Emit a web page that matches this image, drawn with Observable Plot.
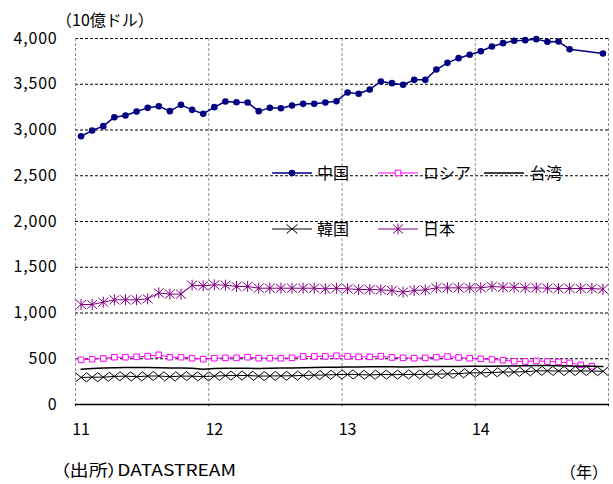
<!DOCTYPE html>
<html>
<head>
<meta charset="utf-8">
<script src="https://cdn.jsdelivr.net/npm/d3@7"></script>
<script src="https://cdn.jsdelivr.net/npm/@observablehq/plot@0.6"></script>
<style>
  html, body { margin: 0; padding: 0; background: #fff; }
  svg text { font-family: "Noto Sans CJK JP", "Noto Sans", sans-serif; }
  .ytick text { letter-spacing: 0.8px; }
</style>
</head>
<body>
<div id="chart"></div>
<script>
// Foreign exchange reserves, monthly, Jan 2011 – Dec 2014 (billion USD)
const yearLabels = ["11", "12", "13", "14"];
const yTicks = [0, 500, 1000, 1500, 2000, 2500, 3000, 3500, 4000];
const seriesNames = ["中国", "ロシア", "台湾", "韓国", "日本"];

const china = [2932, 2994, 3042, 3140, 3158, 3202, 3242, 3260, 3206, 3275, 3220, 3177,
               3250, 3311, 3304, 3300, 3206, 3242, 3238, 3268, 3286, 3286, 3300, 3315,
               3410, 3396, 3443, 3530, 3512, 3494, 3548, 3548, 3661, 3734, 3785, 3822,
               3861, 3913, 3949, 3975, 3982, 3993, 3964, 3967, 3883, null, null, 3836];
const russia = [488, 495, 503, 517, 517, 521, 528, 543, 517, 517, 506, 495,
                506, 510, 510, 517, 506, 506, 506, 510, 525, 525, 525, 532,
                525, 521, 521, 528, 514, 510, 506, 510, 517, 524, 514, 506,
                499, 492, 484, 473, 470, 477, 470, 465, 455, 434, 418, null];
const taiwan = [385, 393, 398, 401, 404, 405, 405, 402, 400, 398, 395, 386,
                393, 397, 397, 395, 394, 397, 398, 400, 402, 405, 407, 408,
                410, 410, 412, 413, 412, 410, 412, 414, 414, 415, 416, 417,
                418, 418, 420, 422, 424, 425, 425, 423, 420, 418, 418, 415];
const korea = [296, 298, 299, 307, 310, 304, 311, 312, 303, 311, 309, 306,
               310, 316, 316, 317, 310, 312, 313, 314, 317, 320, 323, 327,
               329, 327, 323, 328, 326, 327, 329, 330, 331, 335, 337, 346,
               346, 350, 354, 355, 359, 367, 368, 366, 366, 367, 366, 363];
const japan = [1093, 1093, 1118, 1144, 1144, 1144, 1155, 1220, 1206, 1206, 1304, 1297,
               1308, 1304, 1290, 1290, 1271, 1271, 1271, 1271, 1271, 1271, 1264, 1271,
               1264, 1257, 1257, 1253, 1246, 1228, 1246, 1253, 1275, 1275, 1275, 1275,
               1275, 1290, 1282, 1282, 1275, 1275, 1271, 1268, 1268, 1268, 1268, 1260];

// one record per month; x is the month's centre on a 0–48 month axis
const toRows = (values) => values
  .map((v, i) => ({x: i + 0.5, y: v}))
  .filter((d) => d.y != null);

const yearBounds = [0, 12, 24, 36, 48];
const yearCentres = yearLabels.map((_, i) => i * 12 + 0.5);

// marker shapes
const timesSym = {draw(c) { c.moveTo(-5.5, -4.5); c.lineTo(5.5, 4.5); c.moveTo(-5.5, 4.5); c.lineTo(5.5, -4.5); }};
const starSym = {draw(c) { c.moveTo(-5, -4.5); c.lineTo(5, 4.5); c.moveTo(-5, 4.5); c.lineTo(5, -4.5); c.moveTo(0, -5.5); c.lineTo(0, 5.5); }};
const squareSym = {draw(c) { c.rect(-2.8, -2.8, 5.6, 5.6); }};
const circleSym = {draw(c) { c.moveTo(3.3, 0); c.arc(0, 0, 3.3, 0, 2 * Math.PI); }};

const series = [
  {name: seriesNames[0], rows: toRows(china), color: "#000080", width: 1.5, sym: circleSym, fill: "#000080", stroke: "none"},
  {name: seriesNames[1], rows: toRows(russia), color: "#ff00ff", width: 1, sym: squareSym, fill: "white", stroke: "#ff00ff"},
  {name: seriesNames[2], rows: toRows(taiwan), color: "#000000", width: 1.5, sym: null},
  {name: seriesNames[3], rows: toRows(korea), color: "#000000", width: 1, sym: timesSym, fill: "none", stroke: "#000000"},
  {name: seriesNames[4], rows: toRows(japan), color: "#800080", width: 1, sym: starSym, fill: "none", stroke: "#800080"}
];

const marks = [
  Plot.ruleY(yTicks.filter((d) => d > 0), {stroke: "#000", strokeWidth: 1, strokeDasharray: "3,2"}),
  Plot.ruleX(yearBounds, {stroke: "#8c8c8c", strokeWidth: 1, strokeDasharray: "3,2"}),
  Plot.ruleY([0], {stroke: "#000", strokeWidth: 1.5}),
  Plot.axisY({ticks: yTicks, tickFormat: d3.format(","), tickSize: 0, tickPadding: 18, fontSize: 16, label: null, className: "ytick"}),
  Plot.axisX({ticks: yearBounds, tickSize: 2, tickFormat: () => "", label: null}),
  Plot.axisX({ticks: yearCentres, tickSize: 0, tickPadding: 19, fontSize: 16, label: null,
              tickFormat: (d) => yearLabels[Math.round((d - 0.5) / 12)]})
];
for (const s of series) {
  marks.push(Plot.line(s.rows, {x: "x", y: "y", stroke: s.color, strokeWidth: s.width}));
  if (s.sym) marks.push(Plot.dot(s.rows, {x: "x", y: "y", symbol: s.sym, r: 4, fill: s.fill, stroke: s.stroke, strokeWidth: 1}));
}

const svg = Plot.plot({
  width: 613,
  height: 484,
  marginLeft: 75,
  marginRight: 5,
  marginTop: 38,
  marginBottom: 80,
  style: {fontFamily: '"Noto Sans CJK JP", "Noto Sans", sans-serif', fontSize: "16px", color: "#000", background: "#fff"},
  x: {domain: [0, 48]},
  y: {domain: [0, 4000]},
  marks
});
document.getElementById("chart").append(svg);

// annotations and legend
const root = d3.select(svg);
const font = '"Noto Sans CJK JP", "Noto Sans", sans-serif';
const addText = (x, y, str, anchor = "start") =>
  root.append("text").attr("x", x).attr("y", y).attr("dy", "0.35em")
    .attr("text-anchor", anchor).attr("font-family", font).attr("font-size", 16)
    .attr("fill", "#000").text(str);

addText(56, 20, "（10億ドル）");
addText(60, 470, "（出所）DATASTREAM")
  .style("font-feature-settings", '"palt"')
  .attr("textLength", 176).attr("lengthAdjust", "spacingAndGlyphs");
addText(608, 472, "（年）", "end");

const legendPos = [[272, 173], [378, 173], [484, 173], [272, 229], [378, 229]];
series.forEach((s, i) => {
  const [lx, ly] = legendPos[i];
  const g = root.append("g");
  g.append("line").attr("x1", lx).attr("x2", lx + 40).attr("y1", ly).attr("y2", ly)
    .attr("stroke", s.color).attr("stroke-width", s.width);
  if (s.sym) {
    const p = d3.path();
    s.sym.draw(p);
    g.append("path").attr("d", p.toString())
      .attr("transform", `translate(${lx + 20},${ly})`)
      .attr("fill", s.fill).attr("stroke", s.stroke);
  }
  addText(lx + (s.sym ? 45 : 46), ly, s.name);
});
</script>
</body>
</html>
